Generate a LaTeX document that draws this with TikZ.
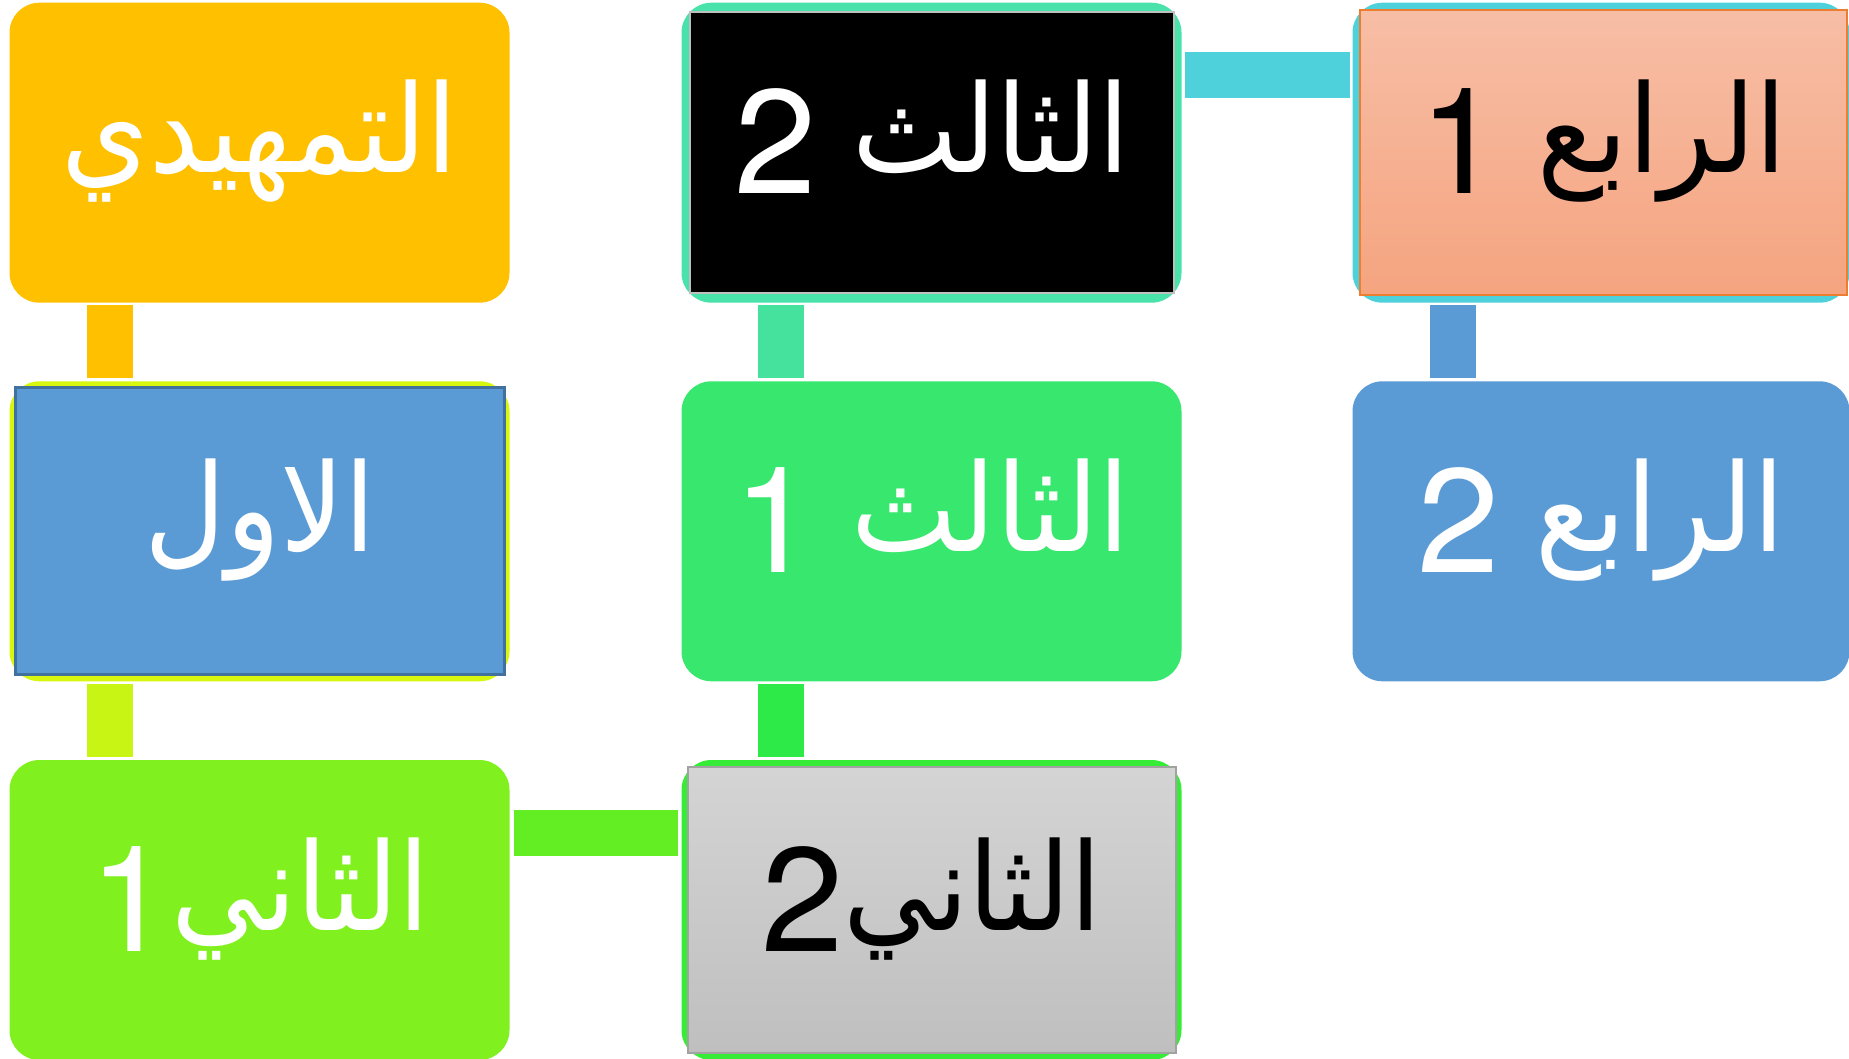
\documentclass[tikz,border=0pt]{standalone}
\usepackage{fontspec}
\usepackage{xcolor}
\newfontfamily\arabicfont[Script=Arabic, FakeStretch=0.92]{DejaVu Sans}
\newfontfamily\digitfont{TeX Gyre Heros}
\newcommand\dgt[1]{\raisebox{-10.6pt}{\digitfont\fontsize{74}{80}\selectfont #1}}
\TeXXeTstate=1
\definecolor{amber}{HTML}{FFC000}
\definecolor{seagreen}{HTML}{48E2AA}
\definecolor{cyanish}{HTML}{4FD1DB}
\definecolor{lime}{HTML}{D7F70E}
\definecolor{limelink}{HTML}{C8F514}
\definecolor{steel}{HTML}{5B9BD5}
\definecolor{steeldark}{HTML}{41719C}
\definecolor{leaf}{HTML}{38E76E}
\definecolor{leaflink}{HTML}{2EEA48}
\definecolor{sealink}{HTML}{45E29D}
\definecolor{grass}{HTML}{80F11E}
\definecolor{grasslink}{HTML}{62EE22}
\definecolor{kelly}{HTML}{36EC36}
\definecolor{peachtop}{HTML}{F7BEA6}
\definecolor{peachbot}{HTML}{F5A47F}
\definecolor{peachline}{HTML}{ED7D31}
\definecolor{greytop}{HTML}{D4D4D4}
\definecolor{greybot}{HTML}{BFBFBF}

\begin{document}
\begin{tikzpicture}[x=0.5pt, y=-0.5pt]
    \tikzstyle{box}=[rounded corners=15pt, minimum width=250pt, minimum height=150pt, inner sep=0pt]
    \tikzstyle{panel}=[inner sep=0pt, line width=1pt]
    \tikzstyle{word}=[font=\arabicfont\fontsize{61}{70}\selectfont, text=white, text height=40pt, text depth=20pt]
    \tikzstyle{link}=[line width=23pt]
    \useasboundingbox (0,0) rectangle (1849,1059);

    \node[box, fill=amber, word] (tamhid) at (259.5,152.7) {\beginR التمهيدي\endR};
    \node[box, fill=seagreen] (thalith2) at (931.5,152.7) {};
    \node[panel, fill=black, draw=greybot, minimum width=242.25pt, minimum height=140.5pt, word] (thalith2in) at (932,152.5) {\beginR الثالث \dgt{2}\endR};
    \node[box, fill=cyanish, minimum width=248.5pt] (rabi1) at (1601,152.7) {};
    \node[panel, top color=peachtop, bottom color=peachbot, draw=peachline, minimum width=243.5pt, minimum height=142.5pt, word, text=black] (rabi1in) at (1603,152.7) {\beginR الرابع \dgt{1}\endR};

    \node[box, fill=lime] (awwal) at (259.5,531.3) {};
    \node[panel, fill=steel, draw=steeldark, line width=1.5pt, minimum width=244.7pt, minimum height=143.65pt, word] (awwalin) at (260,531.3) {\beginR الاول\endR};
    \node[box, fill=leaf, word] (thalith1) at (931.5,531.3) {\beginR الثالث \dgt{1}\endR};
    \node[box, fill=steel, minimum width=248.5pt, word] (rabi2) at (1601,531.3) {\beginR الرابع \dgt{2}\endR};

    \node[box, fill=grass, word] (thani1) at (259.5,910) {\beginR الثاني\dgt{1}\endR};
    \node[box, fill=kelly] (thani2) at (931.5,910) {};
    \node[panel, top color=greytop, bottom color=greybot, draw=greybot!85!black, minimum width=244pt, minimum height=142.7pt, word, text=black] (thani2in) at (931.5,910) {\beginR الثاني\dgt{2}\endR};

    \draw[link, amber] ([shift={(100.5,2.3)}]tamhid.south west) -- ([shift={(100.5,-2.6)}]awwal.north west);
    \draw[link, sealink] ([shift={(99.5,2.3)}]thalith2.south west) -- ([shift={(99.5,-2.6)}]thalith1.north west);
    \draw[link, steel] ([shift={(100.5,2.3)}]rabi1.south west) -- ([shift={(100.5,-2.6)}]rabi2.north west);
    \draw[link, limelink] ([shift={(100.5,2.7)}]awwal.south west) -- ([shift={(100.5,-2.7)}]thani1.north west);
    \draw[link, leaflink] ([shift={(99.5,2.7)}]thalith1.south west) -- ([shift={(99.5,-2.7)}]thani2.north west);
    \draw[link, cyanish] ([shift={(3.5,72.3)}]thalith2.north east) -- ([shift={(-2.5,72.3)}]rabi1.north west);
    \draw[link, grasslink] ([shift={(4,73)}]thani1.north east) -- ([shift={(-3.5,73)}]thani2.north west);
\end{tikzpicture}
\end{document}
